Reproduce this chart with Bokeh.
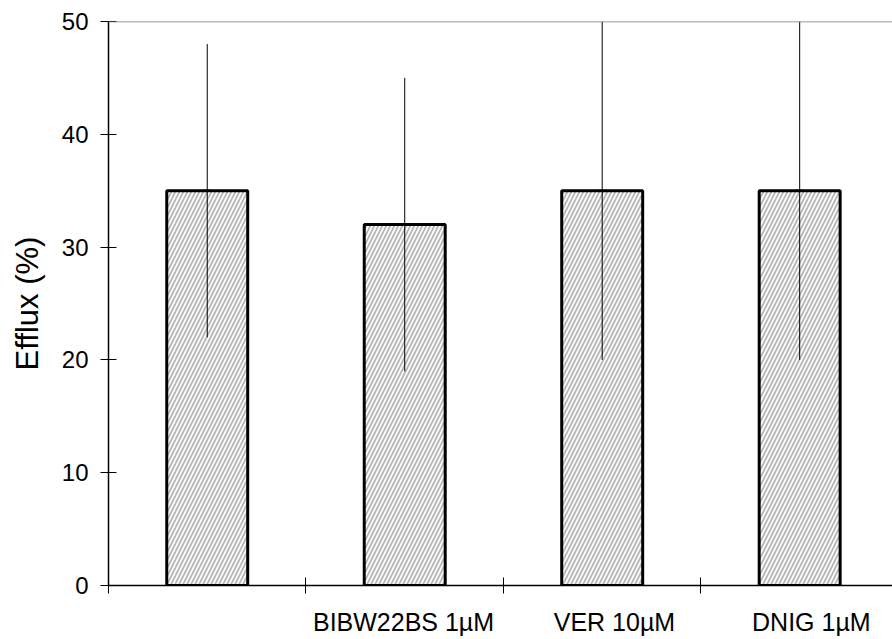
from bokeh.plotting import figure
from bokeh.models import FixedTicker, Span, Range1d
from bokeh.embed import file_html
from bokeh.resources import INLINE

categories = ["", "BIBW22BS 1µM", "VER 10µM", "DNIG 1µM"]
efflux = [35, 32, 35, 35]
sd = [13, 13, 15, 15]
y_ticks = [0, 10, 20, 30, 40, 50]

FONT = "Liberation Sans"
n = len(categories)
centers = [i + 0.5 for i in range(n)]
lower = [m - s for m, s in zip(efflux, sd)]
upper = [m + s for m, s in zip(efflux, sd)]
# label anchor positions (the original's labels sit slightly off the bar centres)
label_pos = [0.5, 1.494, 2.562, 3.559]

p = figure(width=892, height=639, output_backend="svg", toolbar_location=None,
           x_range=Range1d(0, 3.97), y_range=Range1d(0, 50),
           min_border_left=108, min_border_right=0, min_border_top=21, min_border_bottom=54,
           frame_width=784, frame_height=564)
p.outline_line_color = None
p.xgrid.visible = False
p.ygrid.visible = False
p.background_fill_color = "white"
p.border_fill_color = "white"

# top boundary line
p.add_layout(Span(location=50, dimension="width", line_color="#777777", line_width=1.5))

p.vbar(x=centers, top=efflux, width=0.41, bottom=0,
       fill_color="white", hatch_pattern="/", hatch_color="#b8b8b8",
       hatch_scale=8, hatch_weight=1.9,
       line_color="black", line_width=3)

p.segment(x0=centers, y0=lower, x1=centers, y1=upper, line_color="black", line_width=1)
p.segment(x0=[c - 0.02 for c in centers], y0=efflux, x1=[c + 0.02 for c in centers], y1=efflux,
          line_color="black", line_width=2)

# x axis: boundaries as minor ticks, labels near category centres
xa = p.xaxis[0]
xa.ticker = FixedTicker(ticks=label_pos[1:], minor_ticks=list(range(n)))
xa.major_label_overrides = {c: lab for c, lab in zip(label_pos, categories)}
xa.major_tick_in = 0
xa.major_tick_out = 0
xa.minor_tick_in = 8
xa.minor_tick_out = 8
xa.minor_tick_line_color = "black"
xa.minor_tick_line_width = 1
xa.axis_line_color = "black"
xa.axis_line_width = 1.5
xa.major_label_text_font = FONT
xa.major_label_text_font_size = "25px"
xa.major_label_text_color = "black"
xa.major_label_standoff = 14

ya = p.yaxis[0]
ya.ticker = FixedTicker(ticks=y_ticks, minor_ticks=[])
ya.major_tick_in = 8
ya.major_tick_out = 8
ya.major_tick_line_color = "black"
ya.axis_line_color = "black"
ya.axis_line_width = 1.5
ya.major_label_text_font = FONT
ya.major_label_text_font_size = "24px"
ya.major_label_text_color = "black"
ya.major_label_standoff = 12
ya.axis_label = "Efflux (%)"
ya.axis_label_text_font = FONT
ya.axis_label_text_font_size = "31px"
ya.axis_label_text_font_style = "normal"
ya.axis_label_text_color = "black"
ya.axis_label_standoff = 14

open("out.html", "w").write(file_html(p, INLINE))
